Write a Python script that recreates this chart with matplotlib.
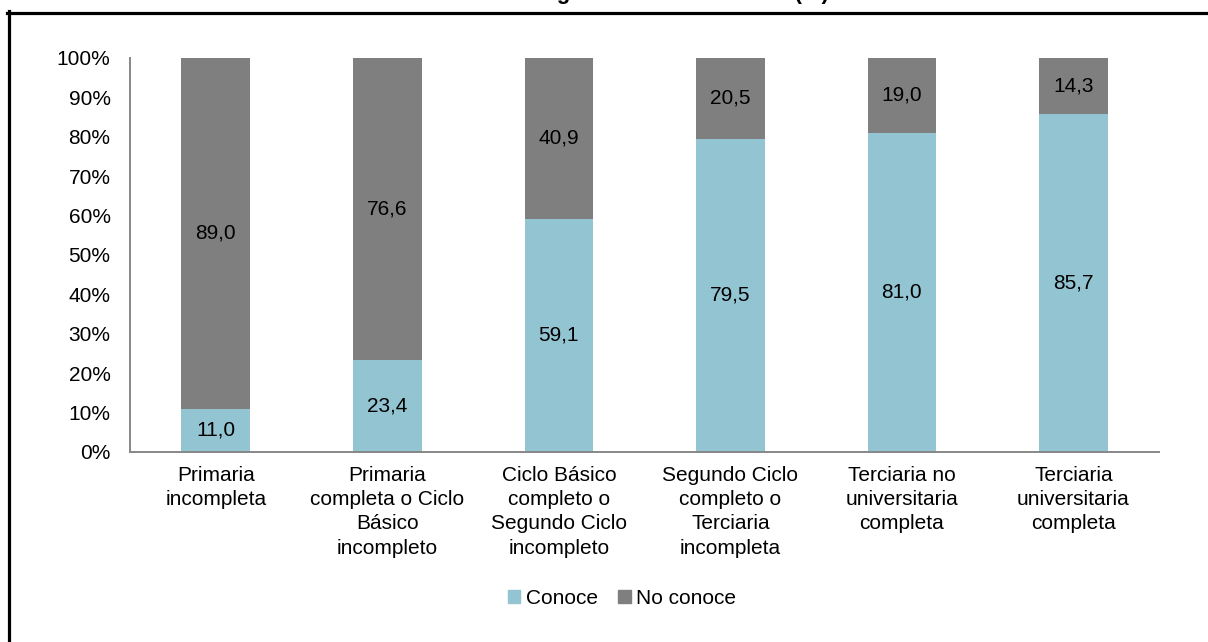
import matplotlib
matplotlib.use("Agg")
import matplotlib.pyplot as plt
from matplotlib.lines import Line2D
from matplotlib.patches import Patch

plt.rcParams['font.family'] = ['Liberation Sans', 'DejaVu Sans']

# datos
categorias = [
    "Primaria\nincompleta",
    "Primaria\ncompleta o Ciclo\nBásico\nincompleto",
    "Ciclo Básico\ncompleto o\nSegundo Ciclo\nincompleto",
    "Segundo Ciclo\ncompleto o\nTerciaria\nincompleta",
    "Terciaria no\nuniversitaria\ncompleta",
    "Terciaria\nuniversitaria\ncompleta",
]
conoce = [11.0, 23.4, 59.1, 79.5, 81.0, 85.7]
no_conoce = [89.0, 76.6, 40.9, 20.5, 19.0, 14.3]

azul = "#93C4D2"
gris = "#7F7F7F"
fs = 15

fig = plt.figure(figsize=(12.08, 6.42), dpi=100)
ax = fig.add_axes([0.1076, 0.296, 0.852, 0.614])

x = list(range(len(categorias)))
ax.bar(x, conoce, width=0.4, color=azul, label="Conoce")
ax.bar(x, no_conoce, width=0.4, bottom=conoce, color=gris, label="No conoce")

# etiquetas de valores
for i in x:
    ax.text(i, conoce[i] / 2, f"{conoce[i]:.1f}".replace(".", ","),
            ha="center", va="center", fontsize=fs)
    ax.text(i, conoce[i] + no_conoce[i] / 2, f"{no_conoce[i]:.1f}".replace(".", ","),
            ha="center", va="center", fontsize=fs)

ax.set_xlim(-0.5, len(categorias) - 0.5)
ax.set_ylim(0, 100)
ax.set_yticks(range(0, 101, 10))
ax.set_yticklabels([f"{v}%" for v in range(0, 101, 10)], fontsize=fs)
ax.set_xticks(x)
ax.set_xticklabels(categorias, fontsize=fs, linespacing=1.35, va="top")
ax.tick_params(axis="y", length=0, pad=14)
ax.tick_params(axis="x", length=0, pad=10)

for s in ["top", "right"]:
    ax.spines[s].set_visible(False)
for s in ["left", "bottom"]:
    ax.spines[s].set_color("#878787")
    ax.spines[s].set_linewidth(1.4)

fig.legend(handles=[Patch(color=azul, label="Conoce"), Patch(color=gris, label="No conoce")],
           loc="center", bbox_to_anchor=(622 / 1208, 1 - 598 / 642), ncol=2,
           frameon=False, fontsize=fs, handlelength=0.6, handleheight=0.6,
           handletextpad=0.25, columnspacing=1.0)

# título (cortado en la imagen original)
fig.text(604 / 1208, 1 + 1 / 642, "Conocimiento según el nivel educativo (%)",
         ha="center", va="baseline", fontsize=16, fontweight="bold")

# marco del gráfico
fig.add_artist(Line2D([7 / 1208, 1], [1 - 12.5 / 642, 1 - 12.5 / 642],
                      transform=fig.transFigure, color="black", linewidth=2.3))
fig.add_artist(Line2D([9 / 1208, 9 / 1208], [0, 1 - 11 / 642],
                      transform=fig.transFigure, color="black", linewidth=2.3))

fig.savefig("out.png", dpi=100)
